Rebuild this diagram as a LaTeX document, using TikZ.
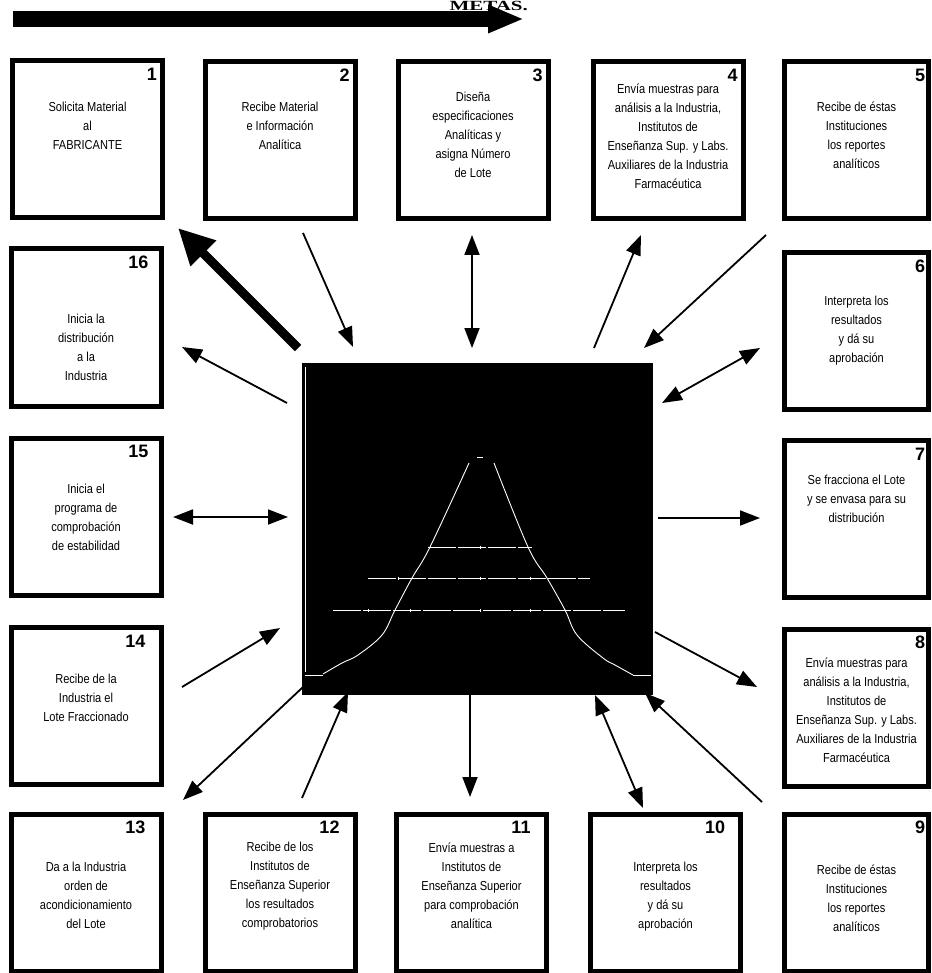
\documentclass[tikz,border=0pt]{standalone}
\usepackage{fontspec}
\setmainfont{Liberation Sans}
\newfontfamily\stagefont[FakeStretch=0.85]{Liberation Sans}
\newfontfamily\titlefont[FakeStretch=1.5]{Liberation Serif}
\usetikzlibrary{arrows.meta}
\usetikzlibrary{positioning}

\begin{document}
\begin{tikzpicture}
	[x=1pt, y=-1pt,
	stage/.style={draw, line width=5pt, minimum height=157pt, inner sep=0pt},
	stagetext/.style={font=\stagefont\fontsize{13}{19}\selectfont, align=center, inner sep=0pt},
	stagenum/.style={font=\fontsize{18}{18}\selectfont\bfseries, inner sep=0pt},
	link/.style={line width=1.8pt, -{Triangle[length=20pt,width=15pt]}},
	twoway/.style={line width=1.8pt, {Triangle[length=20pt,width=15pt]}-{Triangle[length=20pt,width=15pt]}},
	mainlink/.style={line width=9pt, -{Triangle[length=36pt,width=34pt]}},
	bellline/.style={white, line width=0.9pt}]

\useasboundingbox (0,0) rectangle (931,973);

% Banner arrow and title
\coordinate (bannerstart) at (13,19);
\coordinate (bannerend) at (524,19);
\draw[line width=16pt, -{Triangle[length=36pt,width=26pt]}]
	(bannerstart) -- (bannerend);
\node[font=\titlefont\bfseries\fontsize{14}{14}\selectfont, anchor=base west]
	(title) at (446,10.5) {METAS.};

% Stage boxes (\d = distance of the number from the right edge)
\foreach \n/\x/\y/\w/\d in {1/87.5/139.5/150/13, 2/280/140/150/13, 3/473/140/150/13,
	4/668/140/150/13, 5/856.5/140/144/11, 16/86/327.5/150/25, 6/856.5/331/144/11,
	15/86/516.5/150/25, 7/856.5/519/144/11, 14/86/706/150/28, 8/856.5/707.5/144/11,
	13/86/892.5/150/28, 12/280/892.5/150/28, 11/471.5/892.5/150/28,
	10/665.5/892.5/150/28, 9/856.5/892.5/144/11}
{
	\node[stage, minimum width=\w pt] (s\n) at (\x,\y) {};
	\node[stagenum] (n\n) at ([xshift=-\d pt, yshift=-16pt]s\n.north east) {\n};
}

% Stage texts
\node[stagetext] (t1) at (87.5,126) {Solicita Material\\al\\FABRICANTE};
\node[stagetext] (t2) at (280,126) {Recibe Material\\e Información\\Analítica};
\node[stagetext] (t3) at (473,135) {Diseña\\especificaciones\\Analíticas y\\asigna Número\\de Lote};
\node[stagetext] (t4) at (668,136) {Envía muestras para\\análisis a la Industria,\\Institutos de\\Enseñanza Sup. y Labs.\\Auxiliares de la Industria\\Farmacéutica};
\node[stagetext] (t5) at (856.5,135) {Recibe de éstas\\Instituciones\\los reportes\\analíticos};
\node[stagetext] (t6) at (856.5,331) {Interpreta los\\resultados\\y dá su\\aprobación};
\node[stagetext] (t7) at (856.5,499) {Se fracciona el Lote\\y se envasa para su\\distribución};
\node[stagetext] (t8) at (856.5,710) {Envía muestras para\\análisis a la Industria,\\Institutos de\\Enseñanza Sup. y Labs.\\Auxiliares de la Industria\\Farmacéutica};
\node[stagetext] (t9) at (856.5,898) {Recibe de éstas\\Instituciones\\los reportes\\analíticos};
\node[stagetext] (t10) at (665.5,897) {Interpreta los\\resultados\\y dá su\\aprobación};
\node[stagetext] (t11) at (471.5,886) {Envía muestras a\\Institutos de\\Enseñanza Superior\\para comprobación\\analítica};
\node[stagetext] (t12) at (280,886) {Recibe de los\\Institutos de\\Enseñanza Superior\\los resultados\\comprobatorios};
\node[stagetext] (t13) at (86,895) {Da a la Industria\\orden de\\acondicionamiento\\del Lote};
\node[stagetext] (t14) at (86,698) {Recibe de la\\Industria el\\Lote Fraccionado};
\node[stagetext] (t15) at (86,517) {Inicia el\\programa de\\comprobación\\de estabilidad};
\node[stagetext] (t16) at (86,347) {Inicia la\\distribución\\a la\\Industria};

% Central picture
\node[fill=black, minimum width=351pt, minimum height=332pt, inner sep=0pt]
	(core) at (477.5,529) {};
\draw[white, line width=1pt] (305,367) -- (305,672);
\draw[white, line width=1pt] (305,675) -- (323,675);
\draw[white, line width=1pt] (633,675) -- (651,675);

% Bell curve
\draw[bellline] plot[smooth, tension=0.6] coordinates
	{(323,674) (342,663) (358,655) (382,635) (395,610) (412,578) (430,547) (469,463)};
\draw[bellline] plot[smooth, tension=0.6] coordinates
	{(494,463) (528,547) (547,578) (565,610) (577,635) (603,658) (615,665) (633,675)};
\draw[bellline] (477,457) -- (483,457);

% Level lines
\draw[bellline, line width=0.7pt, dash pattern=on 28pt off 2pt] (428,547) -- (532,547);
\draw[bellline, line width=0.7pt, dash pattern=on 28pt off 2pt] (368,578) -- (590,578);
\draw[bellline, line width=0.7pt, dash pattern=on 28pt off 2pt] (333,610) -- (625,610);
\foreach \lx/\ly in {480/547, 480/578, 530/578, 398/578, 480/610, 530/610, 410/610, 368/610}
	\draw[bellline, line width=0.7pt] (\lx,\ly-1.5) -- (\lx,\ly+2);

% Arrow end points
\coordinate (p1a) at (298,348);  \coordinate (p1b) at (178,228);
\coordinate (p2a) at (303,233);  \coordinate (p2b) at (353,347);
\coordinate (p3a) at (472,235);  \coordinate (p3b) at (472,348);
\coordinate (p4a) at (594,348);  \coordinate (p4b) at (641,235);
\coordinate (p5a) at (766,235);  \coordinate (p5b) at (644,348);
\coordinate (p6a) at (662,403);  \coordinate (p6b) at (760,348);
\coordinate (p7a) at (658,518);  \coordinate (p7b) at (760,518);
\coordinate (p8a) at (655,632);  \coordinate (p8b) at (757,687);
\coordinate (p9a) at (762,802);  \coordinate (p9b) at (645,693);
\coordinate (p10a) at (595,695); \coordinate (p10b) at (643,808);
\coordinate (p11a) at (470,695); \coordinate (p11b) at (470,797);
\coordinate (p12a) at (302,798); \coordinate (p12b) at (348,692);
\coordinate (p13a) at (303,687); \coordinate (p13b) at (183,800);
\coordinate (p14a) at (182,687); \coordinate (p14b) at (280,628);
\coordinate (p15a) at (173,517); \coordinate (p15b) at (288,517);
\coordinate (p16a) at (287,403); \coordinate (p16b) at (182,347);

% Arrows
\draw[mainlink] (p1a) -- (p1b);
\draw[link] (p2a) -- (p2b);
\draw[twoway] (p3a) -- (p3b);
\draw[link] (p4a) -- (p4b);
\draw[link] (p5a) -- (p5b);
\draw[twoway] (p6a) -- (p6b);
\draw[link] (p7a) -- (p7b);
\draw[link] (p8a) -- (p8b);
\draw[link] (p9a) -- (p9b);
\draw[twoway] (p10a) -- (p10b);
\draw[link] (p11a) -- (p11b);
\draw[link] (p12a) -- (p12b);
\draw[link] (p13a) -- (p13b);
\draw[link] (p14a) -- (p14b);
\draw[twoway] (p15a) -- (p15b);
\draw[link] (p16a) -- (p16b);

\end{tikzpicture}
\end{document}
